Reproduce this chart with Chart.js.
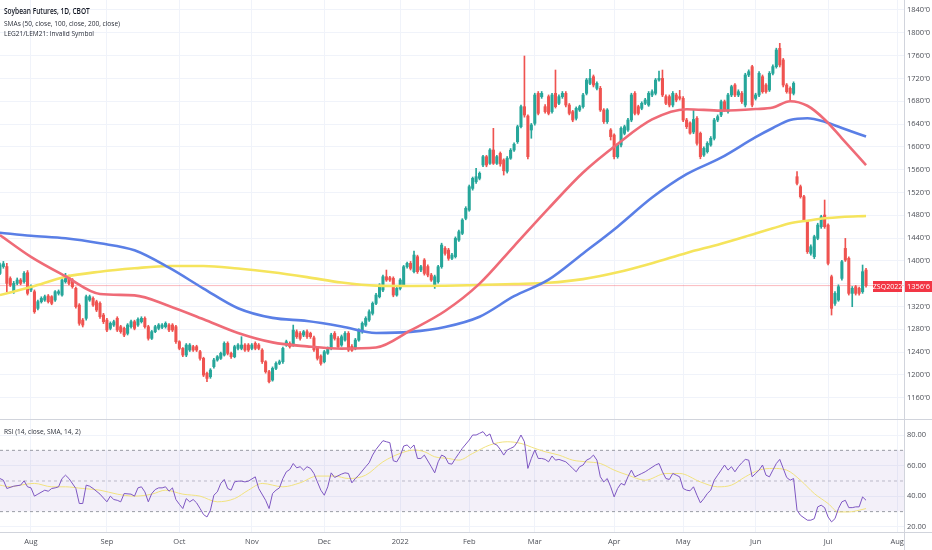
<!DOCTYPE html>
<html>
<head>
<meta charset="utf-8">
<script src="https://cdn.jsdelivr.net/npm/chart.js@4.4.1/dist/chart.umd.min.js"></script>
<style>
body{margin:0;background:#fff;}
#wrap{position:relative;width:932px;height:550px;overflow:hidden;font-family:'Open Sans',sans-serif;}
#mainBox{position:absolute;left:0;top:0;width:932px;height:420px;}
#rsiBox{position:absolute;left:0;top:420px;width:932px;height:130px;}
.lg{position:absolute;left:4px;font-size:8px;line-height:10px;color:#2a2e39;white-space:nowrap;transform:scaleX(0.82);transform-origin:0 0;}
</style>
</head>
<body>
<div id="wrap">
<div id="mainBox"><canvas id="main" width="932" height="420"></canvas></div>
<div id="rsiBox"><canvas id="rsi" width="932" height="130"></canvas></div>
<div class="lg" style="top:6px;font-weight:600;color:#131722">Soybean Futures, 1D, CBOT</div>
<div class="lg" style="top:18px">SMAs (50, close, 100, close, 200, close)</div>
<div class="lg" style="top:28px">LEG21/LEM21: Invalid Symbol</div>
<div class="lg" style="top:426px">RSI (14, close, SMA, 14, 2)</div>
</div>
<script>
// ================= DATA =================
const symbol="ZSQ2022";
const lastPrice=13566;
const firstBar=-9; // bar index of first candle (Jul 2021); index 0 = 2 Aug 2021

const monthIdx=[0,22,43,64,85,107,127,146,169,189,210,231,251];
const monthLabels=["Aug","Sep","Oct","Nov","Dec","2022","Feb","Mar","Apr","May","Jun","Jul","Aug"];

const priceTicks=[11600,12000,12400,12800,13200,13600,14000,14400,14800,15200,15600,16000,16400,16800,17200,17600,18000,18400];
const rsiTicks=[20,40,60,80];

const opens=[
13780,13900,13900,13690,13460,13605,13664,13635,13793,13489,
13459,13167,13284,13313,13384,13372,13313,13430,13401,13635,
13722,13664,13518,13225,12962,12992,13313,13342,13284,13255,
13050,12962,12816,12875,12992,12845,12816,12728,12845,12933,
12875,12933,12992,12845,12641,12758,12816,12834,12845,12875,
12875,12845,12582,12465,12348,12436,12495,12495,12407,12290,
12027,11968,12144,12261,12290,12348,12553,12378,12319,12465,
12465,12524,12524,12465,12553,12524,12436,12231,12056,11910,
12114,12202,12231,12523,12553,12523,12757,12728,12699,12757,
12728,12650,12470,12330,12231,12380,12465,12728,12640,12523,
12611,12728,12500,12465,12611,12757,12874,12962,13079,13254,
13371,13488,13722,13704,13693,13400,13517,13576,13897,13956,
13810,14073,13839,14014,13900,13751,13576,13634,13897,14219,
14190,14044,14073,14365,14482,14745,14891,15271,15388,15447,
15681,15827,15710,15944,15710,15885,15770,15570,15800,15944,
16090,16353,16704,16540,16295,16412,16938,16880,16704,16880,
16617,16938,16763,16880,16938,16733,16617,16500,16645,16704,
16938,17113,17230,17026,17026,16646,16441,16295,16207,15827,
16032,16236,16295,16470,16938,16704,16675,16763,16733,16909,
16938,17172,17201,16880,16880,16733,16909,16880,16850,16470,
16420,16260,16500,16236,15856,15915,16032,16149,16470,16558,
16792,16617,16909,17084,16909,16938,16733,17260,17406,16850,
16909,17230,17084,16997,17289,17406,17727,17523,17084,17026,
16938,15476,15301,15125,14687,14131,14073,14394,14599,14804,
14628,13722,13254,13313,13693,14219,14044,13430,13547,13518,
13459,13839];
const highs=[
13960,13990,13956,13720,13640,13700,13690,13810,13830,13580,
13490,13310,13370,13400,13410,13390,13480,13490,13690,13781,
13750,13690,13540,13250,12990,13400,13400,13370,13310,13280,
13080,12990,12930,12960,13020,12870,12840,12900,12960,12960,
13000,13020,13020,12870,12780,12870,12900,12900,12930,12900,
12900,12870,12600,12480,12550,12550,12520,12520,12430,12310,
12050,12110,12290,12340,12400,12580,12580,12400,12520,12550,
12670,12550,12550,12550,12580,12550,12460,12250,12080,12140,
12230,12260,12490,12610,12580,12874,12790,12760,12780,12790,
12750,12680,12500,12350,12430,12490,12730,12760,12670,12700,
12760,12760,12530,12640,12810,12930,13020,13140,13280,13430,
13600,13750,13839,13730,13720,13540,13690,13920,13980,13990,
14170,14100,13920,14040,13930,13780,13750,13920,14310,14250,
14220,14130,14420,14540,14740,14950,15330,15470,15622,15560,
15850,15850,15970,16324,15850,15910,15790,15830,15970,16070,
16380,16730,17593,16560,16410,16940,16970,16970,16740,16910,
16940,17347,16910,16970,16970,16760,16640,16700,16730,16940,
17200,17359,17260,17140,17060,16670,16670,16320,16230,16060,
16350,16380,16500,16940,16970,16730,16790,16850,16970,17000,
17200,17330,17347,16910,16910,16970,16940,16990,16880,16500,
16440,16646,16530,16260,16000,16090,16180,16500,16560,16820,
16820,16940,17080,17110,17000,16970,17290,17350,17430,16940,
17320,17260,17110,17320,17440,17730,17815,17550,17110,17050,
17140,15564,15330,15150,14710,14280,14450,14660,14800,15067,
14650,13750,13460,13580,14010,14394,14070,13550,13570,13540,
13927,13870];
const lows=[
13760,13870,13460,13550,13430,13580,13580,13610,13400,13460,
13080,13140,13260,13290,13260,13230,13290,13400,13380,13610,
13580,13520,13170,12870,12840,12960,13290,13200,13110,12990,
12900,12760,12790,12850,12760,12730,12670,12700,12820,12790,
12850,12910,12820,12610,12620,12740,12790,12810,12820,12760,
12760,12550,12440,12320,12320,12410,12410,12410,12260,11970,
11881,11940,12120,12240,12270,12330,12350,12290,12300,12440,
12440,12410,12410,12440,12440,12440,12200,12030,11860,11890,
12090,12180,12200,12500,12470,12500,12640,12610,12670,12640,
12640,12410,12260,12172,12210,12360,12440,12610,12470,12500,
12590,12410,12410,12440,12590,12730,12850,12940,13050,13230,
13350,13460,13640,13640,13370,13380,13490,13550,13870,13840,
13790,13780,13810,13750,13720,13640,13517,13610,13870,14100,
14010,14020,14050,14340,14460,14720,14870,15240,15360,15420,
15650,15650,15690,15690,15690,15660,15505,15540,15780,15920,
16060,16330,16520,15790,16150,16380,16560,16850,16590,16560,
16590,16680,16740,16850,16700,16560,16440,16470,16620,16680,
16910,17090,17050,17000,16620,16410,16410,16119,15790,15800,
16000,16210,16270,16440,16560,16560,16650,16740,16710,16880,
16910,17150,16880,16740,16700,16700,16790,16820,16440,16320,
16220,16230,16030,15790,15830,15890,16010,16120,16440,16530,
16620,16590,16880,16880,16880,16760,16700,17230,16700,16820,
16880,16940,16940,16970,17260,17380,17400,17050,16940,16821,
16910,15330,15100,14690,14130,14100,14040,14370,14570,14570,
13930,13050,13220,13290,13660,13990,13400,13196,13400,13400,
13430,13540];
const closes=[
13930,13950,13605,13576,13605,13664,13605,13781,13430,13547,
13108,13284,13342,13372,13284,13255,13459,13460,13664,13722,
13605,13547,13196,12904,12875,13372,13372,13225,13138,13021,
12933,12787,12904,12933,12787,12758,12699,12875,12933,12816,
12974,12992,12845,12641,12758,12845,12875,12875,12904,12787,
12787,12582,12465,12348,12524,12524,12436,12436,12290,11997,
11939,12085,12261,12319,12378,12553,12378,12319,12495,12524,
12524,12436,12436,12524,12465,12465,12231,12056,11881,12114,
12202,12231,12465,12582,12494,12786,12670,12640,12757,12670,
12670,12440,12290,12200,12406,12465,12699,12640,12494,12670,
12728,12436,12430,12611,12786,12904,12991,13108,13254,13400,
13576,13722,13664,13664,13400,13517,13664,13897,13956,13868,
14102,13810,13897,13780,13751,13664,13722,13897,14277,14131,
14044,14102,14394,14511,14716,14921,15301,15447,15476,15535,
15827,15681,15944,15710,15827,15700,15580,15800,15940,16045,
16353,16704,16558,15827,16383,16909,16587,16938,16617,16587,
16909,16704,16880,16938,16733,16587,16470,16675,16704,16909,
17172,17201,17084,17113,16646,16441,16646,16178,15827,16032,
16324,16353,16470,16909,16587,16587,16763,16821,16938,16967,
17172,17201,16909,16763,16733,16938,16821,16850,16470,16353,
16240,16480,16061,15827,15973,16061,16149,16470,16529,16792,
16646,16909,17055,16909,16967,16792,17260,17318,16733,16909,
17289,16967,16967,17289,17406,17698,17435,17084,16967,16938,
17113,15359,15125,14716,14161,14248,14424,14628,14774,14599,
13956,13167,13430,13547,13985,14014,13430,13518,13430,13430,
13810,13566];

// moving averages at these bar indexes
const smaIdx=[-9,0,10,20,30,40,50,60,70,80,90,100,110,120,130,140,150,160,170,180,190,200,210,215,220,225,230,235,242];
const sma50=[14453,14070,13730,13420,13395,13210,12975,12735,12570,12500,12460,12480,12780,13120,13600,14260,14920,15550,16050,16480,16660,16635,16662,16690,16800,16720,16480,16150,15680];
const sma100=[14494,14440,14396,14308,14185,13880,13515,13170,13000,12945,12850,12735,12755,12840,13020,13380,13670,14130,14600,15110,15520,15810,16170,16330,16470,16500,16440,16330,16180];
const sma200=[13401,13540,13720,13810,13870,13910,13910,13865,13800,13715,13620,13565,13559,13564,13576,13594,13615,13680,13800,13960,14140,14300,14480,14570,14659,14705,14746,14770,14787];

// RSI (bar index, value)
const rsiLine=[
[-9,51.6],[-8,50.5],[-7,45.1],[-5,46.6],[-3,47.3],[-2,50.1],[-1,46.2],[0,45.5],[1,40.1],[2,41.4],
[4,44.0],[5,43.3],[6,45.1],[7,45.5],[8,46.2],[9,51.6],[10,53.8],[11,51.6],[13,45.1],[14,35.3],
[15,35.3],[16,47.3],[17,46.6],[18,45.1],[20,41.4],[22,36.4],[23,40.1],[24,37.9],[25,37.4],[26,36.4],
[27,41.8],[29,41.4],[30,40.1],[31,45.5],[32,46.2],[33,42.9],[34,36.4],[35,41.8],[36,44.4],[37,45.5],
[38,45.5],[39,46.2],[40,43.3],[41,45.5],[42,37.9],[43,34.8],[44,32.0],[45,38.5],[46,36.4],[47,37.9],
[48,35.7],[49,32.0],[50,28.1],[51,26.5],[52,30.9],[53,40.7],[54,42.9],[55,48.4],[56,51.0],[57,45.1],
[58,44.0],[59,49.4],[60,49.9],[61,49.9],[62,49.4],[63,49.9],[65,52.7],[66,45.1],[68,37.4],[69,32.0],
[70,41.8],[71,44.0],[72,45.5],[73,51.6],[74,56.0],[75,57.5],[76,61.4],[77,58.6],[78,59.3],[79,57.1],
[80,59.3],[81,58.2],[82,54.9],[83,49.4],[84,44.0],[85,40.7],[86,46.2],[87,55.3],[88,52.3],[90,54.5],
[91,55.3],[92,54.9],[93,48.8],[94,51.6],[95,53.8],[97,59.3],[98,61.9],[99,66.9],[100,70.6],[101,73.5],
[102,76.3],[103,75.6],[104,75.0],[105,63.2],[106,62.5],[107,66.3],[108,72.8],[109,73.5],[110,71.3],[111,73.5],
[112,64.7],[113,64.7],[114,66.9],[116,59.3],[117,55.3],[118,62.5],[119,66.9],[120,65.8],[121,61.4],[122,61.0],
[123,64.7],[124,68.0],[125,71.3],[127,76.7],[128,80.0],[129,80.0],[130,81.1],[131,82.2],[132,79.3],[133,80.7],
[134,74.5],[135,73.5],[136,70.6],[137,66.9],[138,70.2],[139,71.3],[140,72.4],[141,75.6],[142,80.0],[143,75.6],
[144,58.2],[145,64.7],[146,70.2],[147,64.7],[148,64.7],[149,64.1],[150,62.5],[151,66.3],[152,63.6],[153,64.1],
[155,62.5],[156,60.4],[157,58.2],[158,56.0],[159,59.3],[160,60.4],[161,63.6],[162,64.7],[163,66.9],[164,63.6],
[165,52.7],[166,49.4],[167,51.6],[168,46.2],[169,39.6],[170,45.1],[171,48.4],[172,47.3],[173,52.7],[174,57.1],
[175,52.7],[176,53.8],[177,54.9],[178,56.0],[179,57.5],[181,60.4],[182,61.4],[183,56.0],[184,51.6],[185,51.0],
[186,54.9],[187,53.8],[188,52.7],[189,45.1],[190,44.0],[191,43.6],[192,46.2],[193,40.7],[194,35.7],[195,38.5],
[196,41.8],[197,44.0],[198,50.5],[199,53.8],[200,57.1],[201,60.4],[202,57.1],[203,59.3],[204,56.0],[205,59.3],
[206,61.9],[207,64.1],[208,63.6],[209,52.7],[210,54.9],[211,57.1],[212,60.4],[213,53.8],[214,52.7],[215,57.1],
[216,61.4],[217,64.1],[218,58.2],[219,52.3],[220,50.5],[221,51.6],[222,30.9],[223,27.6],[225,24.4],[226,24.4],
[227,25.4],[228,33.1],[229,34.2],[230,32.6],[231,26.5],[232,23.3],[233,25.4],[234,32.0],[235,36.4],[236,37.4],
[237,32.6],[238,32.6],[239,33.1],[240,33.1],[241,39.6],[242,37.4]];
const rsiMa=[
[-9,47.3],[-6,46.2],[-3,47.3],[1,48.4],[6,46.2],[10,46.2],[15,45.1],[20,44.0],[25,41.4],[30,40.1],
[35,41.4],[39,44.0],[44,41.4],[49,40.1],[54,36.4],[59,38.5],[63,44.0],[67,48.4],[73,46.2],[78,48.8],
[83,53.2],[88,53.2],[92,51.6],[97,53.8],[102,62.5],[107,68.0],[111,70.2],[114,69.1],[117,65.8],[121,64.7],
[124,63.6],[128,68.0],[133,73.5],[138,75.6],[142,74.5],[146,71.3],[149,69.1],[153,66.9],[157,63.6],[161,62.5],
[165,61.4],[169,57.1],[173,53.8],[178,50.5],[184,54.9],[188,54.9],[194,49.4],[199,46.2],[203,47.3],[207,52.7],
[211,57.1],[215,58.2],[219,57.1],[223,50.5],[227,41.8],[231,35.3],[234,29.8],[237,29.8],[240,30.9],[242,32.0]];
const rsiBands=[70,50,30];

// ================= SETUP =================
const xMin=-8.98, xMax=253;
const up="#26a69a", down="#ef5350";
const gridCol="#f0f3fa", textCol="#4c4f57", lineCol="#d1d4dc";

Chart.defaults.font.family="'Open Sans','Noto Sans',sans-serif";
Chart.defaults.font.size=7.5;

function priceFmt(v){
return Math.floor(v/10)+"'"+(v%10);
}

function candleColor(ctx){
let k=ctx.dataIndex;
return closes[k]>=opens[k]?up:down;
}

function smaSet(vals,color){
return {
type:'line',
data:smaIdx.map((x,k)=>({x:x,y:vals[k]})),
borderColor:color,
borderWidth:2.6,
pointRadius:0,
cubicInterpolationMode:'monotone'
};
}

function flatLine(v,color,dash){
return {type:'line',data:[{x:xMin,y:v},{x:xMax,y:v}],borderColor:color,borderWidth:1,borderDash:dash||[],pointRadius:0};
}

function fixScale(s,w,h){
if(w!==null) s.width=w;
if(h!==null) s.height=h;
s.paddingTop=0; s.paddingBottom=0; s.paddingLeft=0; s.paddingRight=0;
}

const bodies=closes.map((c,k)=>({x:firstBar+k,y:[opens[k],c]}));
const wicks=closes.map((c,k)=>({x:firstBar+k,y:[lows[k],highs[k]]}));

// ================= PLUGINS =================
const mainOverlay={
id:'mainOverlay',
afterDraw(chart){
let ctx=chart.ctx, a=chart.chartArea;
let y=Math.round(chart.scales.y.getPixelForValue(lastPrice));
ctx.save();
ctx.fillStyle=lineCol;
ctx.fillRect(0,chart.height-1,chart.width,1);
ctx.fillRect(a.right,0,1,chart.height);
ctx.fillStyle="#f23645";
ctx.fillRect(a.right-31,y-5,29,11);
ctx.fillRect(a.right+1,y-5,chart.width-a.right-1,11);
ctx.fillStyle="#fff";
ctx.font="7px 'Open Sans',sans-serif";
ctx.textAlign="center";
ctx.textBaseline="middle";
ctx.fillText(symbol,a.right-16.5,y+0.5);
ctx.font="7.5px 'Open Sans',sans-serif";
ctx.fillText(priceFmt(lastPrice),(a.right+chart.width)/2+0.5,y+0.5);
ctx.restore();
}
};

const rsiOverlay={
id:'rsiOverlay',
afterDraw(chart){
let ctx=chart.ctx, a=chart.chartArea;
ctx.save();
ctx.fillStyle=lineCol;
ctx.fillRect(0,Math.round(a.bottom),chart.width,1);
ctx.fillRect(a.right,0,1,chart.height);
ctx.restore();
}
};

// ================= PRICE PANE =================
new Chart(document.getElementById("main"),{
type:'bar',
data:{datasets:[
smaSet(sma50,"#ef6b77"),
smaSet(sma100,"#5a7fe6"),
smaSet(sma200,"#f5e45c"),
{type:'bar',data:bodies,backgroundColor:candleColor,barThickness:2.4,grouped:false,borderWidth:0},
{type:'bar',data:wicks,backgroundColor:candleColor,barThickness:1,grouped:false,borderWidth:0},
flatLine(lastPrice,"rgba(242,54,69,0.35)")
]},
options:{
responsive:false,
animation:false,
layout:{padding:0},
plugins:{legend:{display:false},tooltip:{enabled:false}},
scales:{
x:{
type:'linear',min:xMin,max:xMax,offset:false,
grid:{color:gridCol,drawTicks:false,offset:false},
border:{display:false},
ticks:{display:false},
afterBuildTicks:s=>{s.ticks=monthIdx.map(v=>({value:v}));},
afterFit:s=>fixScale(s,null,0)
},
y:{
position:'right',min:11209,max:18575,
grid:{color:gridCol,drawTicks:false},
border:{display:false},
ticks:{callback:v=>priceFmt(v),color:textCol,padding:3},
afterBuildTicks:s=>{s.ticks=priceTicks.map(v=>({value:v}));},
afterFit:s=>fixScale(s,28,null)
}
}
},
plugins:[mainOverlay]
});

// ================= RSI PANE =================
new Chart(document.getElementById("rsi"),{
type:'line',
data:{datasets:[
{data:rsiLine.map(p=>({x:p[0],y:p[1]})),borderColor:"#7e57c2",borderWidth:1,pointRadius:0},
{data:rsiMa.map(p=>({x:p[0],y:p[1]})),borderColor:"#f1e27f",borderWidth:1,pointRadius:0,cubicInterpolationMode:'monotone'},
flatLine(rsiBands[0],"#9a9da6",[3,3]),
Object.assign(flatLine(rsiBands[2],"#9a9da6",[3,3]),{fill:'-1',backgroundColor:"rgba(126,87,194,0.09)"}),
flatLine(rsiBands[1],"rgba(154,157,166,0.6)",[3,3])
]},
options:{
responsive:false,
animation:false,
layout:{padding:0},
plugins:{legend:{display:false},tooltip:{enabled:false}},
scales:{
x:{
type:'linear',min:xMin,max:xMax,offset:false,
grid:{color:gridCol,drawTicks:false},
border:{display:false},
ticks:{callback:(v,i)=>monthLabels[i],color:textCol,padding:5,maxRotation:0,autoSkip:false},
afterBuildTicks:s=>{s.ticks=monthIdx.map(v=>({value:v}));},
afterFit:s=>fixScale(s,null,18)
},
y:{
position:'right',min:16.7,max:89.8,
grid:{color:gridCol,drawTicks:false},
border:{display:false},
ticks:{callback:v=>v.toFixed(2),color:textCol,padding:3},
afterBuildTicks:s=>{s.ticks=rsiTicks.map(v=>({value:v}));},
afterFit:s=>fixScale(s,28,null)
}
}
},
plugins:[rsiOverlay]
});
</script>
</body>
</html>
